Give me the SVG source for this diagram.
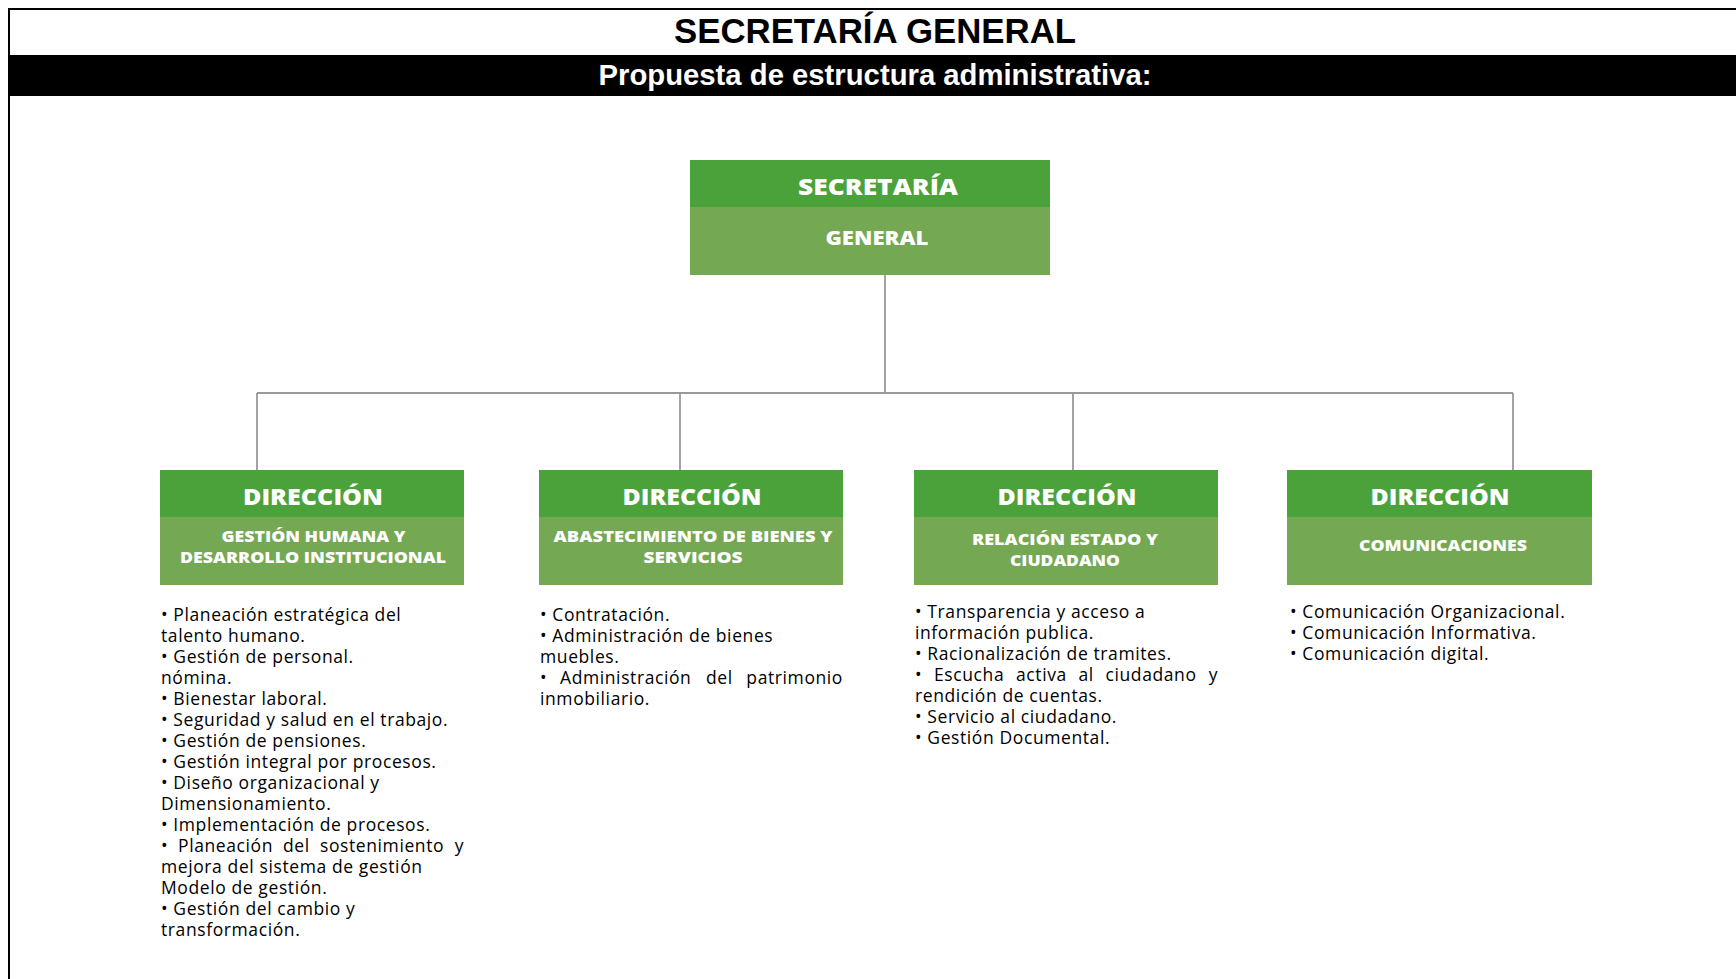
<svg xmlns="http://www.w3.org/2000/svg" width="1736" height="979" viewBox="0 0 1736 979">
<style>
.title{font-family:"Liberation Sans",Arial,sans-serif;font-weight:bold;text-anchor:middle}
.hd{font-family:"Open Sans","Liberation Sans",sans-serif;font-weight:800;fill:#ffffff;text-anchor:middle}
.body{font-family:"Open Sans","Liberation Sans",sans-serif;font-size:17.5px;font-weight:500;letter-spacing:0.6px;fill:#000000}
.dark{fill:#4ba23a}
.light{fill:#74a853}
.conn{stroke:#999999;stroke-width:1.8;fill:none}
</style>
<rect x="0" y="0" width="1736" height="979" fill="#ffffff"/>
<g id="frame">
<line x1="9" y1="9" x2="1736" y2="9" stroke="#000" stroke-width="2"/>
<line x1="9" y1="8" x2="9" y2="979" stroke="#000" stroke-width="2"/>
<rect x="9" y="55" width="1727" height="41" fill="#000"/>
<text class="title" x="875" y="43" font-size="35" textLength="402" lengthAdjust="spacingAndGlyphs" fill="#000">SECRETARÍA GENERAL</text>
<text class="title" x="875" y="85" font-size="29.5" textLength="553" lengthAdjust="spacingAndGlyphs" fill="#fff">Propuesta de estructura administrativa:</text>
</g>
<g id="connectors">
<path class="conn" d="M885 275 V393 M257 393 H1513 M257 393 V470 M680 393 V470 M1073 393 V470 M1513 393 V470"/>
</g>
<g id="secretaria-general">
<rect class="dark" x="690" y="160" width="360" height="47"/>
<rect class="light" x="690" y="207" width="360" height="68"/>
<text class="hd" x="878" y="195" font-size="23" textLength="160" lengthAdjust="spacingAndGlyphs">SECRETARÍA</text>
<text class="hd" x="877" y="245" font-size="20" textLength="103" lengthAdjust="spacingAndGlyphs">GENERAL</text>
</g>
<g id="dir-gestion-humana">
<rect class="dark" x="160" y="470" width="304" height="47"/>
<rect class="light" x="160" y="517" width="304" height="68"/>
<text class="hd" x="313" y="505" font-size="23.5" textLength="140" lengthAdjust="spacingAndGlyphs">DIRECCIÓN</text>
<text class="hd" x="313.5" y="542" font-size="15.5" textLength="184" lengthAdjust="spacingAndGlyphs">GESTIÓN HUMANA Y</text>
<text class="hd" x="313" y="563" font-size="16" textLength="266" lengthAdjust="spacingAndGlyphs">DESARROLLO INSTITUCIONAL</text>
<text class="body" x="161" y="621">• Planeación estratégica del</text>
<text class="body" x="161" y="642">talento humano.</text>
<text class="body" x="161" y="663">• Gestión de personal.</text>
<text class="body" x="161" y="684">nómina.</text>
<text class="body" x="161" y="705">• Bienestar laboral.</text>
<text class="body" x="161" y="726">• Seguridad y salud en el trabajo.</text>
<text class="body" x="161" y="747">• Gestión de pensiones.</text>
<text class="body" x="161" y="768">• Gestión integral por procesos.</text>
<text class="body" x="161" y="789">• Diseño organizacional y</text>
<text class="body" x="161" y="810">Dimensionamiento.</text>
<text class="body" x="161" y="831">• Implementación de procesos.</text>
<text class="body" y="852"><tspan x="161">•</tspan><tspan x="178">Planeación</tspan><tspan x="283">del</tspan><tspan x="320">sostenimiento</tspan><tspan x="464" text-anchor="end">y</tspan></text>
<text class="body" x="161" y="873">mejora del sistema de gestión</text>
<text class="body" x="161" y="894">Modelo de gestión.</text>
<text class="body" x="161" y="915">• Gestión del cambio y</text>
<text class="body" x="161" y="936">transformación.</text>
</g>
<g id="dir-abastecimiento">
<rect class="dark" x="539" y="470" width="304" height="47"/>
<rect class="light" x="539" y="517" width="304" height="68"/>
<text class="hd" x="692" y="505" font-size="23.5" textLength="139" lengthAdjust="spacingAndGlyphs">DIRECCIÓN</text>
<text class="hd" x="693" y="542" font-size="15.5" textLength="279" lengthAdjust="spacingAndGlyphs">ABASTECIMIENTO DE BIENES Y</text>
<text class="hd" x="693" y="563" font-size="16" textLength="99" lengthAdjust="spacingAndGlyphs">SERVICIOS</text>
<text class="body" x="540" y="621">• Contratación.</text>
<text class="body" x="540" y="642">• Administración de bienes</text>
<text class="body" x="540" y="663">muebles.</text>
<text class="body" y="684"><tspan x="540">•</tspan><tspan x="560">Administración</tspan><tspan x="706">del</tspan><tspan x="843" text-anchor="end">patrimonio</tspan></text>
<text class="body" x="540" y="705">inmobiliario.</text>
</g>
<g id="dir-relacion-estado">
<rect class="dark" x="914" y="470" width="304" height="47"/>
<rect class="light" x="914" y="517" width="304" height="68"/>
<text class="hd" x="1067" y="505" font-size="23.5" textLength="139" lengthAdjust="spacingAndGlyphs">DIRECCIÓN</text>
<text class="hd" x="1065" y="545" font-size="15.5" textLength="186" lengthAdjust="spacingAndGlyphs">RELACIÓN ESTADO Y</text>
<text class="hd" x="1065" y="566" font-size="16" textLength="110" lengthAdjust="spacingAndGlyphs">CIUDADANO</text>
<text class="body" x="915" y="617.5">• Transparencia y acceso a</text>
<text class="body" x="915" y="638.5">información publica.</text>
<text class="body" x="915" y="659.5">• Racionalización de tramites.</text>
<text class="body" y="680.5"><tspan x="915">•</tspan><tspan x="934">Escucha</tspan><tspan x="1016">activa</tspan><tspan x="1078.5">al</tspan><tspan x="1105.5">ciudadano</tspan><tspan x="1218" text-anchor="end">y</tspan></text>
<text class="body" x="915" y="701.5">rendición de cuentas.</text>
<text class="body" x="915" y="722.5">• Servicio al ciudadano.</text>
<text class="body" x="915" y="743.5">• Gestión Documental.</text>
</g>
<g id="dir-comunicaciones">
<rect class="dark" x="1287" y="470" width="305" height="47"/>
<rect class="light" x="1287" y="517" width="305" height="68"/>
<text class="hd" x="1440" y="505" font-size="23.5" textLength="139" lengthAdjust="spacingAndGlyphs">DIRECCIÓN</text>
<text class="hd" x="1443" y="551" font-size="15.5" textLength="168" lengthAdjust="spacingAndGlyphs">COMUNICACIONES</text>
<text class="body" x="1290" y="617.5">• Comunicación Organizacional.</text>
<text class="body" x="1290" y="638.5">• Comunicación Informativa.</text>
<text class="body" x="1290" y="659.5">• Comunicación digital.</text>
</g>
</svg>
